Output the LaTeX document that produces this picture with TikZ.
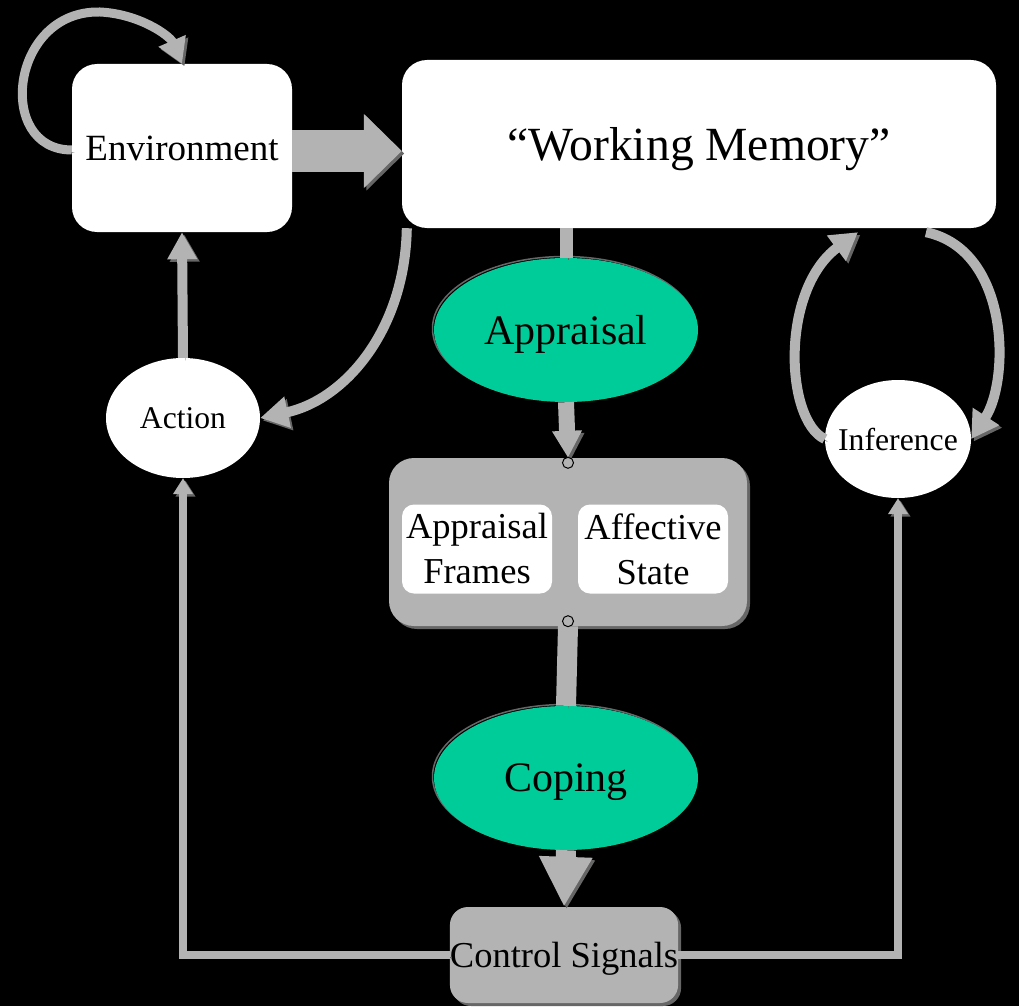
\documentclass[tikz,border=0pt]{standalone}
\usepackage{fontspec}
\setmainfont{Liberation Serif}
\usetikzlibrary{arrows.meta,shapes.geometric}
\definecolor{agray}{HTML}{B3B3B3}
\definecolor{sgray}{HTML}{666666}
\definecolor{appgreen}{HTML}{00CC99}
\tikzset{
  whitebox/.style={draw=none,fill=white,rectangle,rounded corners=25pt,inner sep=0pt,text depth=0pt},
  graybox/.style={draw=none,fill=agray,rectangle,rounded corners=25pt,inner sep=0pt,text depth=0pt,
    preaction={fill=sgray,transform canvas={shift={(3,3)}}}},
  innerbox/.style={draw=none,fill=white,rectangle,rounded corners=12pt,inner sep=0pt,
    minimum width=150pt,minimum height=89pt,align=center,font=\fontsize{36.5}{45}\selectfont},
  whiteell/.style={ellipse,fill=white,draw=none,inner sep=0pt},
  greenell/.style={ellipse,fill=appgreen,draw=none,inner sep=0pt,minimum width=264pt,minimum height=144pt,
    text depth=0pt,font=\fontsize{42}{50}\selectfont,
    preaction={draw=sgray,line width=1.5pt,transform canvas={shift={(-1.5,-1.5)}}}},
  conn/.style={draw=agray,line width=#1,
    preaction={draw=sgray,transform canvas={shift={(2.5,2.5)}}}},
  port/.style={circle,draw=black,line width=1pt,fill=agray,minimum size=11pt,inner sep=0pt},
}
\begin{document}
\begin{tikzpicture}[x=1pt,y=-1pt]
\useasboundingbox (0,0) rectangle (1019,1006);
\fill[black] (0,0) rectangle (1019,1006);

% nodes
\node[whitebox,minimum width=220pt,minimum height=168pt,font=\fontsize{37}{44}\selectfont] (env) at (182,148) {Environment};
\node[whitebox,minimum width=594pt,minimum height=168pt,font=\fontsize{47.6}{56}\selectfont] (wm) at (699,144) {“Working Memory”};
\node[whiteell,minimum width=154pt,minimum height=120pt,label={[font=\fontsize{31.6}{38}\selectfont]center:Action}] (act) at (183,418) {};
\node[whiteell,minimum width=146pt,minimum height=118pt,label={[font=\fontsize{31.7}{38}\selectfont]center:Inference}] (inf) at (898,439) {};
\node[greenell] (app) at (566,330) {Appraisal};
\node[graybox,minimum width=358pt,minimum height=168pt] (box) at (568,542) {};
\node[innerbox] (frames) at (477,549) {Appraisal\\Frames};
\node[innerbox] (affect) at (653,549) {Affective\\State};
\node[greenell] (cop) at (566,778) {Coping};
\node[graybox,rounded corners=18pt,minimum width=226pt,minimum height=96pt,font=\fontsize{36.5}{44}\selectfont] (ctl) at (564,955) {Control Signals};

% connectors
\draw[conn=42pt,-{Triangle[width=72pt,length=38pt]}] ([yshift=-3pt]env.east) -- ([yshift=-3pt]env.east -| wm.west);
\draw[conn=9pt,-{Triangle[width=28pt,length=25pt]}] ([yshift=-2pt]env.west) .. controls (-5,150) and (10,10) .. (100,12) .. controls (140,14) and (170,36) .. (env.north);
\draw[conn=10pt,-{Triangle[width=28pt,length=27pt]}] (act.north) -- (env.south);
\draw[conn=10pt,-{Triangle[width=30pt,length=28pt]}] ([xshift=5pt]wm.south west) .. controls (405,330) and (345,400) .. (act.east);
\draw[conn=13pt] (app.north |- wm.south) -- (app.north);
\draw[conn=16pt,-{Triangle[width=28pt,length=27pt]}] (app.south) -- (box.north);
\draw[conn=20pt] (box.south) -- (cop.north);
\draw[conn=20pt,-{Triangle[width=50pt,length=50pt]}] (cop.south) -- (ctl.north);
\draw[conn=8pt,-{Triangle[width=19pt,length=16pt]}] (ctl.west) -| (act.south);
\draw[conn=8pt,-{Triangle[width=19pt,length=16pt]}] (ctl.east) -| (inf.south);
\draw[conn=10pt,-{Triangle[width=30pt,length=27pt]}] (inf.west) .. controls (785,420) and (780,290) .. ([xshift=159pt,yshift=-4pt]wm.south);
\draw[conn=10pt,-{Triangle[width=30pt,length=27pt]}] ([xshift=227pt,yshift=-4pt]wm.south) .. controls (1010,250) and (1010,380) .. (inf.east);

\node[port] (p1) at ([yshift=-5pt]box.north) {};
\node[port] (p2) at ([yshift=5pt]box.south) {};
\end{tikzpicture}
\end{document}
